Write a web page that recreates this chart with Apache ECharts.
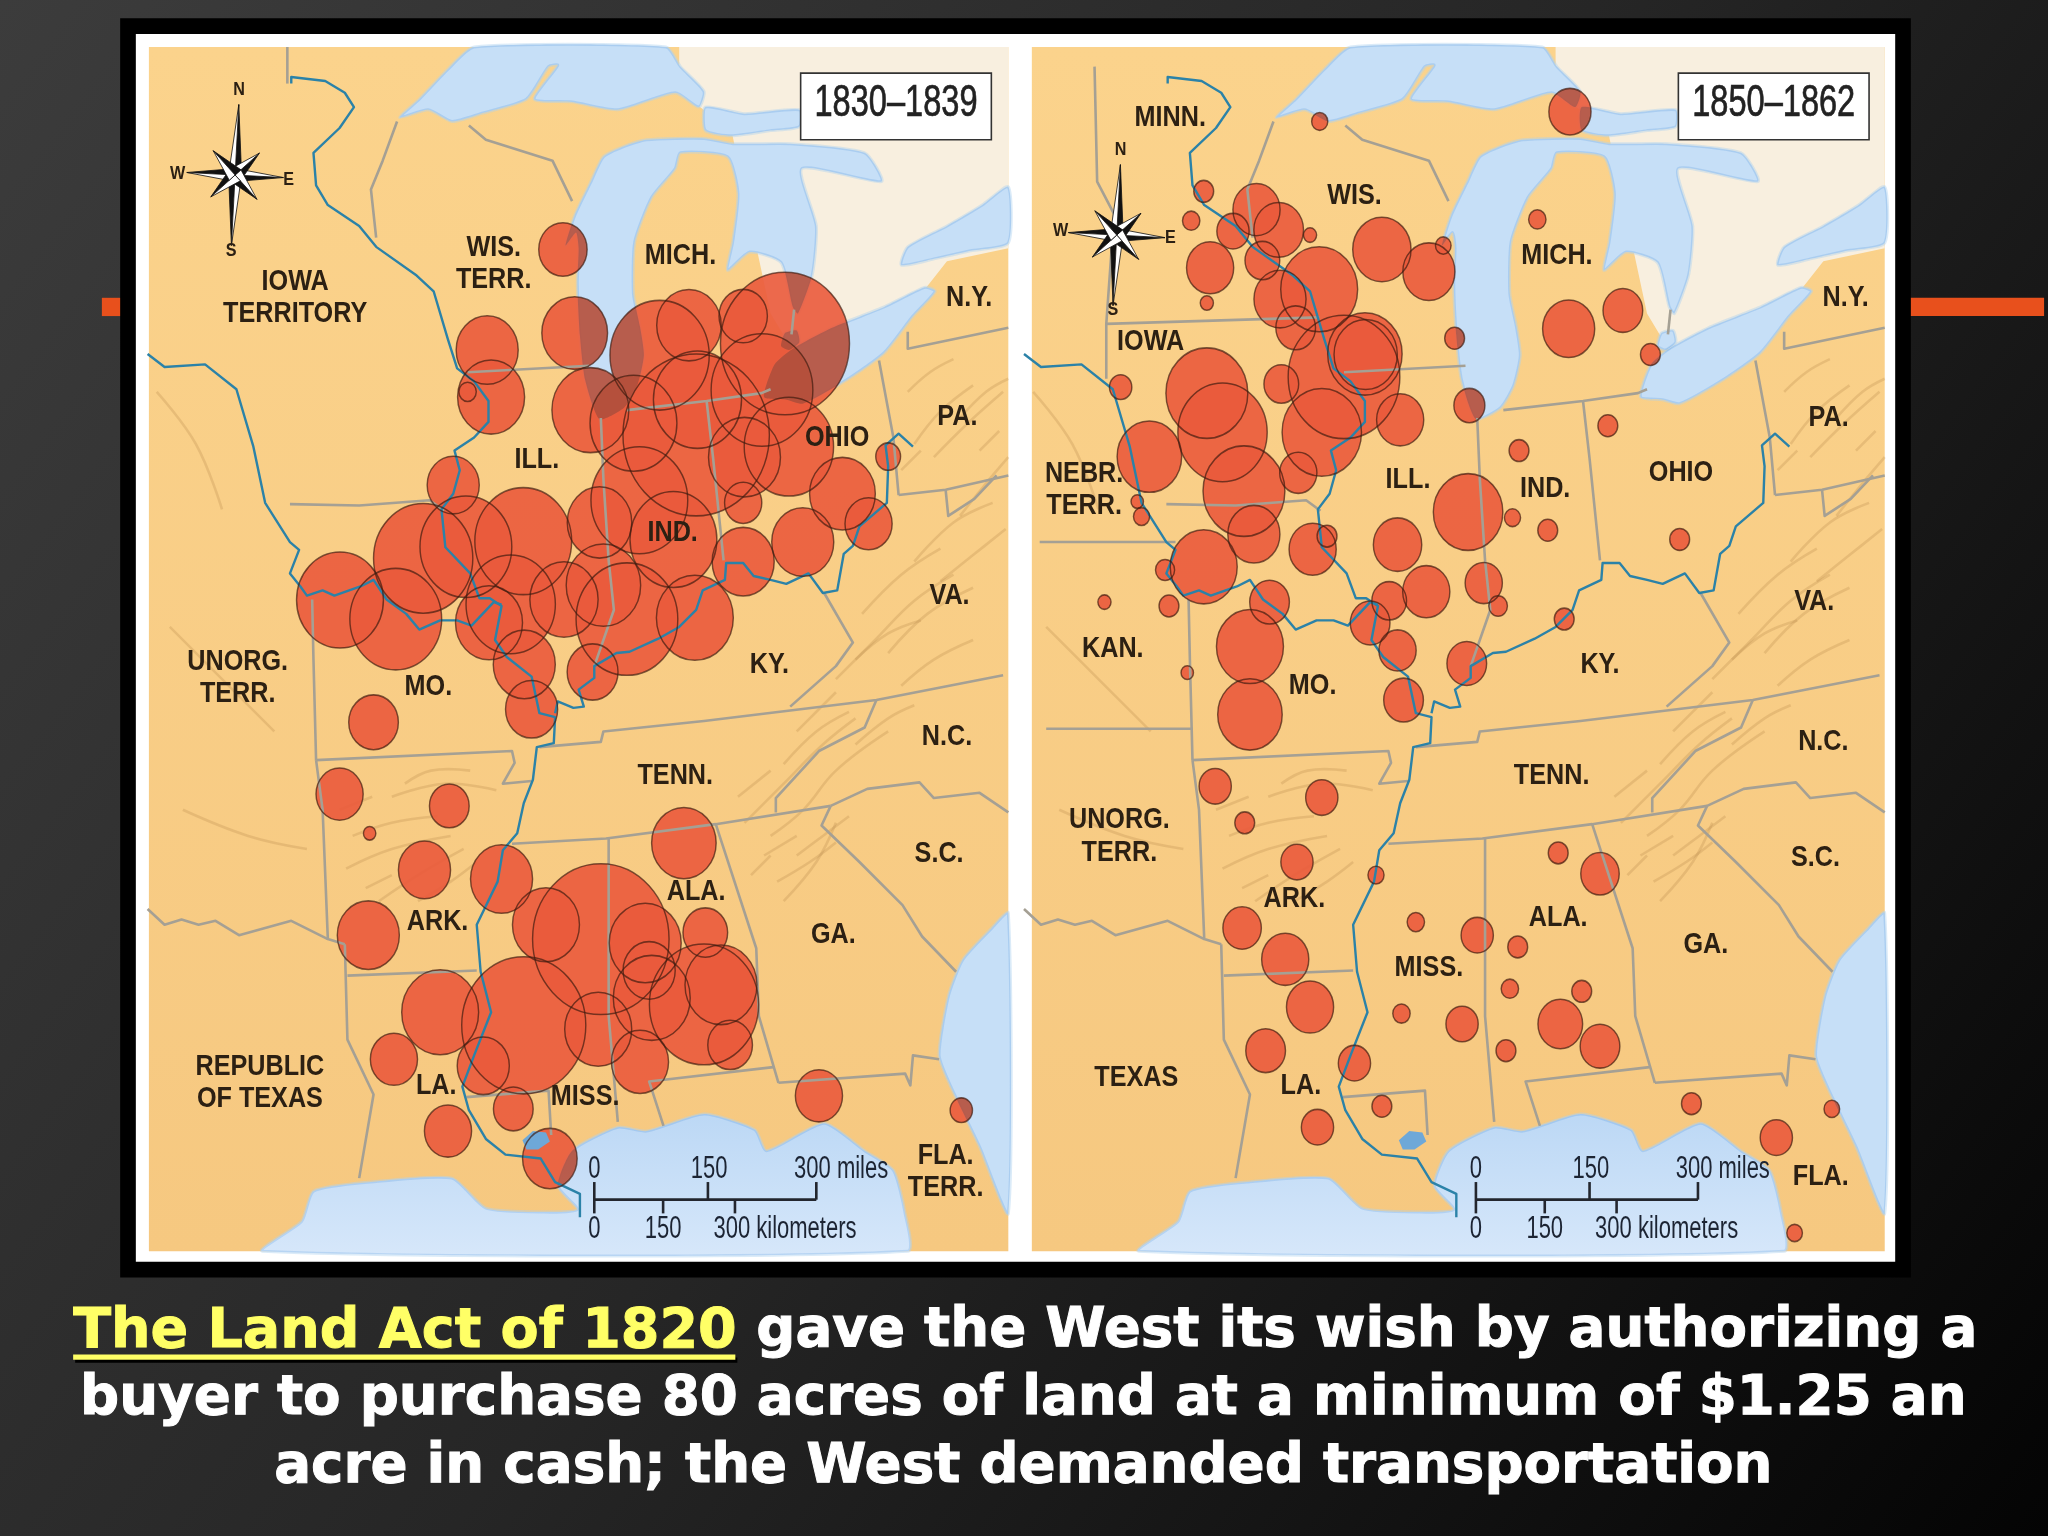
<!DOCTYPE html>
<html><head><meta charset="utf-8">
<style>html,body{margin:0;padding:0;background:#111}#c{width:2048px;height:1536px}</style>
<script src="https://cdn.jsdelivr.net/npm/echarts@6/dist/echarts.min.js"></script>
</head><body><div id="c"></div>
<script>
// ---- bubbles: [x, y, radius] in map units
const bubbles1830 = [
[431,191,19.5],[440,255,26.5],[373,268,25],[376,304,27],[358,300,7],[452,314,31],[505,272,40],[527.5,249,26],[569,242,19.5],[601,263,52],
[583.4,298.6,41],[534,306,35.5],[485,324,35],[533,333,59],[489.5,383,39],[570,350,29],[604,342,36],[459,400,26],[515.6,413,35],
[569,385,15],[569,430,25],[614.6,415,25],[645,378,26.5],[665,401,19],[680,349.6,10],[347,371.4,21],[260.3,459.4,35],[324,427.5,40],[356.7,418.6,37],[303,474,37],
[400.6,414.3,39],[374.4,476.8,27],[391,462.7,36],[431.8,459,27.5],[462,448,30],[480,474,41],[532,473,31],[401.4,508.7,25],[407,543,21],[453.7,514.5,20.5],
[286,553,20],[260,608,19],[344,617,16],[283,638,5],[325,666,21],[384,673,25],[282,716,25],[523.6,645.5,26],[540,714,18],[418,708,27],[460,719,55],
[494,722,29],[552,754,29],[539,769,44],[497,743,21],[499,764,31],[559,800,18],[458,788,27],[490,813,23],[401,785,50],[337,775,31],[370,816,21],
[301.6,811,19],[393,849,16],[343,866,19],[421,887,22],[627,839,19],[736,850,9]];
const bubbles1850 = [
[339.4,93,6.5],[531,85.5,17],[506,168,7],[250.6,146.5,8],[241,169,7],[291,160.5,19],[308,176,20],[273,177,13],[332,180,5.3],[255.5,205,19],[253,232,5.3],
[295.5,199.5,14],[387,191,23.5],[423,208,21],[434,188,6.3],[339,221.5,31],[309,229,21],[321,251,16],[374,271,30],[374.6,271.4,25.5],[358,288.6,45],[310,294,14],
[401,321.4,19],[442.7,259,8],[187,296.4,9],[253,301,33],[265,331,36],[209,349.6,26],[341,331,32],[323,362,15],[281.4,376,33],[289,409,21],[199.7,384,5],[203,395.5,6.5],
[250.6,434,27],[221,436.4,7.7],[224,464,8],[174.6,461,5.3],[301,461,16],[334,420.5,19],[345,410.5,8],[399,417,19.5],[454,310.5,12.5],[560,326,8],[492,345,8],
[453,392,28],[487,396.4,6.5],[514,406,8],[615,413,8],[592.6,271.4,8],[571.5,237.7,16],[530,251.7,21],[465,446.4,15],[476,464,7.5],[421,453,19],[392.6,460,14],
[378,477,16],[526.6,474,8],[399,498,15],[452,508,16],[286,495,27],[238,515,5],[286,547,26],[403.6,536,16],[259.4,602,13],[341,610.6,13],[282,630,8],[322,660,13],
[382.5,670,6.5],[522,653,8],[554,669,15.5],[413,706,7],[460,716,13],[491,725,8],[280,710.5,15.5],[313,734.5,19],[332,771,19],[485,757,7],[540,759,8],[402,776,7],
[448.4,784,13],[523.6,784,18],[554,801,16],[482,804.4,8],[298,804.4,16],[366,814,13],[387,847,8],[337.7,863,13],[624,845,8],[731.5,849,6.3],[689,871,13],[703,944,6.3]];

// ---- place names: [text, x, y] in map units
const labels1830 = [["WIS.\nTERR.",378,202],["IOWA\nTERRITORY",226,228],["MICH.",521,196],["N.Y.",742,228],["PA.",733,319],["ILL.",411,352],["OHIO",641,335],["IND.",515,408],["VA.",727,456],
["UNORG.\nTERR.",182,519],["MO.",328,526],["KY.",589,509],["N.C.",725,564],["TENN.",517,594],["S.C.",719,654],["ALA.",533,683],["ARK.",335,706],["GA.",638,716],["REPUBLIC\nOF TEXAS",199,829],["LA.",334,831],["MISS.",448,840],["FLA.\nTERR.",724,897]];
const labels1850 = [["MINN.",225,90],["WIS.",366,150],["MICH.",521,196],["N.Y.",742,228],["IOWA",210,262],["PA.",729,320],["NEBR.\nTERR.",159,375],["ILL.",407,367],["IND.",512,374],["OHIO",616,362],["VA.",718,461],
["KAN.",181,497],["MO.",334,525],["KY.",554,509],["N.C.",725,568],["TENN.",517,594],["UNORG.\nTERR.",186,640],["S.C.",719,657],["ALA.",522,703],["ARK.",320,688],["GA.",635,723],["MISS.",423,741],["TEXAS",199,825],["LA.",325,831],["FLA.",723,901]];
const periodLabels = ["1830–1839","1850–1862"];

// ---- caption
const captionLead = "The Land Act of 1820";
const captionLines = ["gave the West its wish by authorizing a","buyer to purchase 80 acres of land at a minimum of $1.25 an","acre in cash; the West demanded transportation"];

// ---- scale bar
const scaleMiles = [["0",0],["150",88],["300 miles",189]];
const scaleKm = [["0",0],["150",52.7],["300 kilometers",146]];

// ---- geography, map units
const canada = [[520,36],[772,36],[772,190],[725,200],[703,228],[650,265],[620,290],[590,240],[560,100],[520,70]];
const superior = [[306,90],[328,84],[346,93],[368,87],[403,76],[420,51],[427,50],[409,76],[438,78],[473,84],[517,71],[535,82],[539,70],[521,51],[510,36],[363,36],[343,53],[321,76]];
const michiganHuron = [[495,107],[478,112],[462,120],[452,140],[440,165],[433,188],[441,178],[443,190],[442,217],[444,257],[448,291],[459,321],[478,312],[488,295],[493,272],[490,250],[485,225],[486,185],[499,151],[517,129],[521,117],[557,120],[565,148],[561,185],[557,207],[574,193],[598,201],[607,235],[611,240],[622,210],[625,173],[614,129],[675,139],[662,117],[605,110],[561,110],[539,106]];
const northChannel = [[540,82],[570,87],[612,84],[612,97],[590,100],[560,104],[540,100]];
const stClair = [[601,255],[610,253],[612,262],[604,268],[598,265]];
const erie = [[585,304],[602,306],[615,309],[651,289],[677,270],[699,242],[716,223],[708,220],[677,235],[637,251],[607,267],[593,279]];
const ontario = [[690,203],[695,189],[725,173],[752,157],[772,143],[772,186],[743,192],[716,198]];
const gulf = [[201,958],[231,935],[240,912],[284,905],[346,902],[372,925],[416,928],[442,926],[427,908],[438,881],[473,863],[495,866],[539,853],[578,865],[587,881],[631,860],[662,881],[684,896],[693,929],[695,958]];
const atlantic = [[772,699],[759,711],[737,735],[726,763],[719,808],[728,832],[750,878],[772,929]];
const pontchartrain = [[400,873],[408,866],[418,867],[421,874],[412,880],[403,880]];
const sharedBorders = [
[[358,285],[451,280]],[[480,314],[541,307],[583,301],[590,298]],[[541,307],[546,351],[554,429]],[[460,320],[462,367],[466,429],[470,467],[455,510]],
[[222,386],[275,387],[329,383],[340,391]],[[359,96],[372,107],[423,123],[438,154]],[[304,93],[293,123],[284,145],[288,182]],
[[673,276],[684,335],[688,379]],[[695,254],[695,267],[772,251]],[[688,379],[724,375],[772,364]],[[724,375],[726,395],[746,382],[763,364]],[[608,237],[606,256]],
[[631,454],[653,492],[640,510],[605,541]],[[413,572],[460,568],[462,560],[539,552],[671,536],[768,517]],[[671,536],[662,557],[627,575],[594,611],[594,622]],
[[392,646],[464,642],[548,631],[636,617]],[[636,617],[664,604],[704,599],[715,611],[750,607],[772,622]],[[636,617],[629,632],[658,660],[691,693],[706,717],[732,744]],
[[548,631],[579,726],[581,778],[596,829]],[[596,829],[693,822],[697,831],[699,808],[719,811]],[[592,817],[497,828],[508,862]],[[466,642],[466,778],[473,859]],
[[242,582],[392,575],[394,584],[385,600],[407,598]],[[239,459],[240,505],[242,582]],[[242,582],[247,620],[251,719],[264,723]],
[[113,696],[126,708],[139,704],[152,708],[165,705],[183,716],[223,705],[251,719]],[[264,723],[266,796],[286,838],[275,902]],[[266,747],[365,743]],[[357,840],[420,835],[422,869]]];
const bordersOnly1830 = [[[220,36],[220,64]]];
const bordersOnly1850 = [[[125,415],[229,415]],[[130,558],[242,558]],[[167,51],[169,139],[182,164],[176,248],[176,290]],[[176,248],[339,243]]];
const mississippi = [[223,64],[223,59],[249,62],[264,71],[271,82],[260,98],[240,117],[242,142],[251,157],[275,173],[288,189],[319,211],[332,223],[343,260],[350,282],[363,292],[374,307],[374,323],[363,335],[348,345],[352,360],[347,378],[338,390],[341,419],[360,439],[367,458],[375,458],[384,464],[379,490],[388,503],[407,518],[413,546],[425,549],[424,569],[411,572],[408,597],[401,615],[396,638],[385,651],[381,675],[365,708],[368,744],[376,775],[363,808],[354,832],[359,850],[372,872],[387,884],[414,887],[425,905],[444,914],[444,932]];
const missouri = [[113,271],[126,281],[157,279],[181,298],[194,342],[203,385],[222,415],[229,421],[222,439],[230,449],[235,456],[247,452],[256,456],[276,449],[286,444],[296,459],[311,470],[321,482],[337,475],[350,475],[361,479],[378,461],[384,463]];
const ohioRiver = [[699,342],[688,332],[678,341],[680,357],[679,385],[658,403],[653,418],[646,424],[641,452],[630,454],[619,439],[602,447],[590,444],[577,441],[569,431],[556,431],[555,444],[538,452],[533,467],[520,480],[504,489],[482,499],[472,500],[455,510],[455,519],[443,528],[447,541],[439,542],[427,537],[425,546]];
const ridges = [[[700,340],[720,315],[745,295]],[[715,350],[740,325],[768,300]],[[690,360],[705,345]],[[735,395],[755,370],[772,350]],[[700,430],[730,400],[760,385]],[[660,470],[690,440],[720,420]],[[640,520],[670,490],[700,460],[730,440]],[[680,500],[710,470],[745,450]],[[610,560],[640,530]],[[570,630],[600,600],[630,570],[655,550]],[[590,640],[615,620],[640,590],[680,560]],[[640,645],[620,660],[595,675]],[[585,655],[610,640]],[[600,690],[625,660],[640,630]],[[270,640],[300,630],[335,625]],[[265,665],[300,650],[345,640]],[[290,690],[320,670],[355,650]],[[300,610],[340,600],[380,605]],[[260,620],[285,610]],[[120,300],[150,340],[170,390]],[[130,480],[170,520],[210,560]],[[140,620],[190,640],[235,650]],
[[695,300],[712,285],[730,275]],[[735,320],[755,300],[772,290]],[[750,345],[765,330]],[[720,445],[745,425],[770,405]],[[655,505],[680,485],[705,475]],[[690,525],[715,505],[745,490]],[[600,585],[625,560],[650,545]],[[655,570],[680,550],[700,540]],[[610,655],[630,640],[650,625]],[[565,610],[590,590]],[[575,670],[590,655]],[[310,600],[330,590],[360,590]],[[320,690],[345,675],[365,660]],[[280,680],[300,670]]];
const compassCentres = [[180,134],[184,180]];
const compassLetters = [[["N",183,69],["S",177,192],["W",136,133],["E",221,138]],[["N",187,115],["S",181,237],["W",141,177],["E",225,182]]];

const k = 2048/1568;
const px = v => v*k;
const NARROW = '"Liberation Sans Narrow","Liberation Sans",sans-serif';
const lakes = [superior, michiganHuron, erie, ontario, northChannel, stClair];
const waters = [superior, michiganHuron, erie, ontario, northChannel, stClair, atlantic, gulf];
const GULF_INDEX = waters.indexOf(gulf);

function polySeries(idx, list, styleFn, type, z, blend){
  const s={type:'custom',xAxisIndex:idx,yAxisIndex:idx,silent:true,clip:false,z:z,animation:false,
    coordinateSystem:'cartesian2d',encode:{x:0,y:1},
    data:list.map((_,i)=>[i,i]),
    renderItem:(p,api)=>{
      const i=api.value(0);
      const pts=list[i].map(c=>api.coord(c));
      return {type:type,shape:{points:pts,smooth:styleFn.smooth||0},style:styleFn(i)};
    }};
  if(blend) s.blendMode=blend;
  return s;
}
function textSeries(idx, list, font, fill, z, extra, stroke){
  return {type:'custom',xAxisIndex:idx,yAxisIndex:idx,silent:true,clip:false,z:z,animation:false,
    coordinateSystem:'cartesian2d',encode:{x:0,y:1},
    data:list.map((_,i)=>[i,i]),
    renderItem:(p,api)=>{
      const t=list[api.value(0)];
      const c=api.coord([t[1],t[2]]);
      const st={text:t[0],font:font,fill:fill,align:'center',verticalAlign:'middle',lineHeight:px(25)};
      if(stroke){st.stroke=fill;st.lineWidth=stroke;}
      return Object.assign({type:'text',x:c[0],y:c[1],style:st},extra||{});
    }};
}
function compassSeries(idx){
  const ctr=compassCentres[idx];
  return {type:'custom',xAxisIndex:idx,yAxisIndex:idx,silent:true,clip:false,z:30,animation:false,
    coordinateSystem:'cartesian2d',encode:{x:0,y:1},data:[[ctr[0],ctr[1]]],
    renderItem:(p,api)=>{
      const c=[api.value(0),api.value(1)];
      const spikes=[[-87,54,5],[93,54,5],[183,37,5],[3,37,5],[-42,25,6],[48,25,6],[138,25,6],[228,25,6]];
      const ch=[];
      spikes.forEach(s=>{
        const a=s[0]*Math.PI/180, tip=[c[0]+s[1]*Math.cos(a),c[1]+s[1]*Math.sin(a)];
        const b1=[c[0]+s[2]*Math.cos(a+Math.PI/2),c[1]+s[2]*Math.sin(a+Math.PI/2)];
        const b2=[c[0]-s[2]*Math.cos(a+Math.PI/2),c[1]-s[2]*Math.sin(a+Math.PI/2)];
        ch.push({type:'polygon',shape:{points:[tip,b1,c].map(q=>api.coord(q))},style:{fill:'#111',stroke:'#111',lineWidth:.8}});
        ch.push({type:'polygon',shape:{points:[tip,b2,c].map(q=>api.coord(q))},style:{fill:'#fff',stroke:'#111',lineWidth:.8}});
      });
      return {type:'group',children:ch};
    }};
}
function scaleSeries(idx, dx){
  const x0=455+dx, y=918.5;
  const lines=[[[x0,y],[x0+170,y]],[[x0,905],[x0,929]],[[x0+87,905],[x0+87,y]],[[x0+170,905],[x0+170,y]],[[x0+52.7,y],[x0+52.7,929]],[[x0+107.7,y],[x0+107.7,929]]];
  const st=()=>({stroke:'#23262e',lineWidth:2.6,fill:'none'});
  const top=scaleMiles.map(s=>[s[0],x0+s[1],895]);
  const bot=scaleKm.map(s=>[s[0],x0+s[1],941]);
  const ext={scaleX:.71};
  return [polySeries(idx,lines,st,'polyline',26),
          textSeries(idx,top,'31px '+NARROW,'#1c2433',27,ext),
          textSeries(idx,bot,'31px '+NARROW,'#1c2433',27,ext)];
}
function periodSeries(idx, x0){
  const box=[[x0,56],[x0+146,56],[x0+146,107],[x0,107]];
  return [polySeries(idx,[box],()=>({fill:'#fff',stroke:'#333',lineWidth:1.6}),'polygon',28),
          textSeries(idx,[[periodLabels[idx],x0+73,79.5]],'44px '+NARROW,'#222',29,{scaleX:.74},.7)];
}
function panel(idx, bubbles, labels){
  const mapX=idx===0?114:119;
  const land=[[mapX,36],[772,36],[772,958],[mapX,958]];
  const borders=sharedBorders.concat(idx===0?bordersOnly1830:bordersOnly1850);
  const sizes=v=>[2*v[2]*k*.95,2*v[2]*k*1.05];
  const ridgeStyle=()=>({stroke:'rgba(190,142,78,.3)',lineWidth:2.6,fill:'none'});
  ridgeStyle.smooth=.4;
  const riverStyle=()=>({stroke:'#2b82a8',lineWidth:2.4,fill:'none',lineJoin:'round'});
  const fillBase=()=>({fill:'#fff'}); fillBase.smooth=.2;
  const fillWater=i=>({fill:i===GULF_INDEX?{type:'linear',x:0,y:0,x2:0,y2:1,colorStops:[{offset:0,color:'#bcd8f5'},{offset:1,color:'#d6e7fa'}]}:'#c6dff7'}); fillWater.smooth=.2;
  const haloLake=()=>({fill:'none',stroke:'rgba(175,210,240,.45)',lineWidth:3}); haloLake.smooth=.2;
  const list=[
    polySeries(idx,[land],()=>({fill:{type:'linear',x:0,y:0,x2:0,y2:1,colorStops:[{offset:0,color:'#fbd38c'},{offset:1,color:'#f6c880'}]}}),'polygon',2),
    polySeries(idx,[canada],()=>({fill:'#f8efdf'}),'polygon',3),
    polySeries(idx,ridges,ridgeStyle,'polyline',4),
    polySeries(idx,waters,fillBase,'polygon',5),
    polySeries(idx,waters,haloLake,'polygon',5),
    {type:'scatter',xAxisIndex:idx,yAxisIndex:idx,silent:true,z:6,animation:false,clip:false,data:bubbles,symbol:'circle',symbolSize:sizes,itemStyle:{color:'#ea5a3c',opacity:.9}},
    polySeries(idx,waters,fillWater,'polygon',7,'multiply'),
    polySeries(idx,[pontchartrain],()=>({fill:'#6ea8d8'}),'polygon',8),
    polySeries(idx,borders,()=>({stroke:'#a5a094',lineWidth:2.6,fill:'none',lineJoin:'round'}),'polyline',9),
    polySeries(idx,[mississippi,missouri,ohioRiver],riverStyle,'polyline',10),
    {type:'scatter',xAxisIndex:idx,yAxisIndex:idx,silent:true,z:11,animation:false,clip:false,data:bubbles,symbol:'circle',symbolSize:sizes,itemStyle:{color:'rgba(0,0,0,0)',borderColor:'rgba(62,26,14,.85)',borderWidth:1.5}},
    textSeries(idx,labels,'bold 30px '+NARROW,'#2c2013',20,{scaleX:.84}),
    textSeries(idx,compassLetters[idx],'bold 19px '+NARROW,'#2c2013',31,{scaleX:.85})
  ];
  return list.concat(periodSeries(idx,idx===0?613:614),[compassSeries(idx)],scaleSeries(idx,idx===0?0:4));
}
const capStyle=(text,fill,align,size)=>({text:text,font:'bold '+size+'px "DejaVu Sans"',fill:fill,stroke:fill,lineWidth:1,align:align,verticalAlign:'middle',shadowColor:'#000',shadowOffsetX:3,shadowOffsetY:3,shadowBlur:1});
const option={
  animation:false,
  backgroundColor:{type:'linear',x:0,y:0,x2:1,y2:1,colorStops:[{offset:0,color:'#3c3c3c'},{offset:.5,color:'#262626'},{offset:1,color:'#040404'}]},
  grid:[
    {left:px(114),top:px(36),width:px(658),height:px(922),containLabel:false},
    {left:px(790),top:px(36),width:px(653),height:px(922),containLabel:false}],
  xAxis:[{type:'value',gridIndex:0,min:114,max:772,show:false},{type:'value',gridIndex:1,min:119,max:772,show:false}],
  yAxis:[{type:'value',gridIndex:0,min:36,max:958,inverse:true,show:false},{type:'value',gridIndex:1,min:36,max:958,inverse:true,show:false}],
  tooltip:{show:false},
  graphic:{elements:[
    {type:'rect',z:0,shape:{x:px(78),y:px(228),width:px(20),height:px(14)},style:{fill:'#e8501c'}},
    {type:'rect',z:0,shape:{x:px(1460),y:px(228),width:px(105),height:px(14)},style:{fill:'#e8501c'}},
    {type:'rect',z:1,shape:{x:px(92),y:px(14),width:px(1371),height:px(964)},style:{fill:'#000'}},
    {type:'rect',z:1,shape:{x:px(104),y:px(26),width:px(1347),height:px(940)},style:{fill:'#fff'}},
    {type:'rect',z:40,shape:{x:px(56),y:px(1037),width:px(507),height:px(4)},style:{fill:'#ffff66',shadowColor:'#000',shadowOffsetX:2,shadowOffsetY:3}},
    {type:'text',z:41,x:px(56),y:px(1020),style:capStyle(captionLead,'#ffff66','left',55.5)},
    {type:'text',z:41,x:px(579),y:px(1020),style:capStyle(captionLines[0],'#fff','left',54.7)},
    {type:'text',z:41,x:px(783.5),y:px(1072),style:capStyle(captionLines[1],'#fff','center',54.7)},
    {type:'text',z:41,x:px(783.5),y:px(1124),style:capStyle(captionLines[2],'#fff','center',54.7)}
  ]},
  series:[].concat(panel(0,bubbles1830,labels1830),panel(1,bubbles1850,labels1850))
};
const chart=echarts.init(document.getElementById('c'),null,{renderer:'canvas',width:2048,height:1536});
chart.setOption(option);
</script></body></html>
